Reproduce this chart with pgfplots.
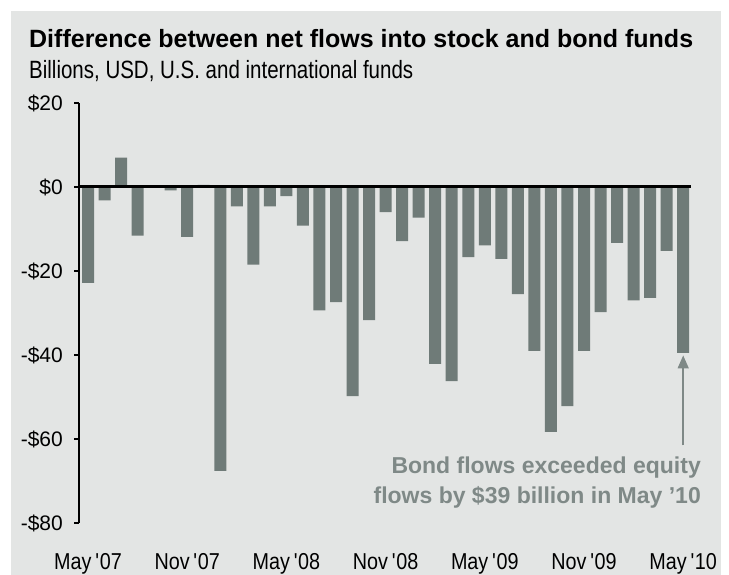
\documentclass[border=0pt]{standalone}
\usepackage{fontspec}
\setmainfont{Liberation Sans}
\newfontfamily\narrowfont[FakeStretch=0.82]{Liberation Sans}
\newfontfamily\tickfont[FakeStretch=0.86]{Liberation Sans}
\usepackage{pgfplots}
\pgfplotsset{compat=1.18}
\usetikzlibrary{arrows.meta}
\definecolor{panel}{HTML}{E3E5E4}
\definecolor{barc}{HTML}{6F7B78}
\definecolor{annot}{HTML}{7F8987}
\begin{document}
\begin{tikzpicture}[x=1bp,y=1bp]
\path[use as bounding box] (0,0) rectangle (729,575);
\fill[white] (0,0) rectangle (729,575);
\fill[panel] (11,0) rectangle (721,564);
\node[anchor=base west, inner sep=0pt] at (29,527.7) {\fontsize{25bp}{29bp}\selectfont\bfseries Difference between net flows into stock and bond funds};
\node[anchor=base west, inner sep=0pt] at (29,496) {\fontsize{25bp}{29bp}\selectfont\narrowfont Billions, USD, U.S. and international funds};
\begin{axis}[
  at={(79bp,52bp)}, anchor=south west,
  scale only axis, width=611.8bp, height=420bp,
  xmin=-0.545, xmax=36.46, ymin=-80, ymax=20,
  axis y line*=left, axis x line*=bottom,
  x axis line style={draw=none},
  y axis line style={black, line width=2.5bp},
  ytick={-80,-60,-40,-20,0,20},
  yticklabels={-\$80,-\$60,-\$40,-\$20,\$0,\$20},
  tick align=outside, major tick length=5bp,
  y tick style={black, line width=2bp},
  xtick={0,6,12,18,24,30,36},
  xticklabels={May\,\textquotesingle07,Nov\,\textquotesingle07,May\,\textquotesingle08,Nov\,\textquotesingle08,May\,\textquotesingle09,Nov\,\textquotesingle09,May\,\textquotesingle10},
  x tick style={draw=none},
  y tick label style={font=\fontsize{21bp}{25bp}\selectfont, inner sep=0pt, anchor=east, xshift=-11bp},
  x tick label style={font=\fontsize{23bp}{27bp}\selectfont\tickfont, inner sep=0pt, anchor=base, yshift=-42bp},
  clip=false,
]
\addplot[ybar, bar width=12bp, fill=barc, draw=none] coordinates {
(0,-22.8) (1,-3.2) (2,7.0) (3,-11.6) (4,0) (5,-0.8) (6,-11.9) (7,0.5)
(8,-67.6) (9,-4.6) (10,-18.5) (11,-4.6) (12,-2.2) (13,-9.2) (14,-29.4)
(15,-27.4) (16,-49.8) (17,-31.7) (18,-6.0) (19,-12.9) (20,-7.3) (21,-42.1)
(22,-46.2) (23,-16.7) (24,-13.9) (25,-17.1) (26,-25.5) (27,-39.0) (28,-58.3)
(29,-52.2) (30,-39.0) (31,-29.8) (32,-13.3) (33,-27.0) (34,-26.4) (35,-15.2)
(36,-39.5)};
\addplot[black, line width=3bp, forget plot] coordinates {(-0.545,0) (36.46,0)};
\draw[annot, line width=1.5bp, -{Triangle[width=11bp,length=13bp]}] (axis cs:36,-61.5) -- (axis cs:36,-40.1);
\end{axis}
\node[anchor=base east, inner sep=0pt, text=annot] at (701,101.7) {\fontsize{23bp}{27bp}\selectfont\bfseries Bond flows exceeded equity};
\node[anchor=base east, inner sep=0pt, text=annot] at (701,71) {\fontsize{23bp}{27bp}\selectfont\bfseries flows by \$39 billion in May ’10};
\end{tikzpicture}
\end{document}
